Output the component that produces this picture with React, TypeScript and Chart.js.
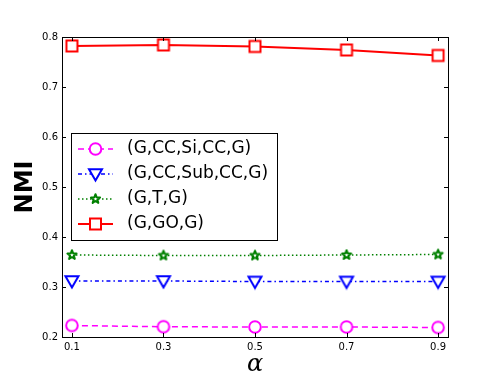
import React, { useEffect, useRef } from "react";
import { Chart, registerables } from "chart.js";
Chart.register(...registerables);

const alphas = [0.1, 0.3, 0.5, 0.7, 0.9];
const xTicks = [0.1, 0.3, 0.5, 0.7, 0.9];
const yTicks = [0.2, 0.3, 0.4, 0.5, 0.6, 0.7, 0.8];
const seriesNames = ["(G,CC,Si,CC,G)", "(G,CC,Sub,CC,G)", "(G,T,G)", "(G,GO,G)"];
const siValues = [0.223, 0.2205, 0.22, 0.22, 0.219];
const subValues = [0.312, 0.312, 0.311, 0.311, 0.311];
const tValues = [0.364, 0.363, 0.363, 0.364, 0.365];
const goValues = [0.782, 0.784, 0.781, 0.774, 0.763];

const colors = ["#ff00ff", "#0000ff", "#008000", "#ff0000"];
const markers = ["circle", "triangleDown", "star", "square"];
const dashes: number[][] = [[6, 4], [4, 3, 1.5, 3], [1.5, 2.5], []];
const lineWidths = [1.5, 1.5, 1.5, 2];

function drawMarker(ctx: CanvasRenderingContext2D, kind: string, cx: number, cy: number, color: string) {
  ctx.save();
  ctx.setLineDash([]);
  ctx.fillStyle = "#ffffff";
  ctx.strokeStyle = color;
  ctx.lineWidth = 2;
  ctx.lineJoin = "miter";
  ctx.beginPath();
  if (kind === "circle") {
    ctx.arc(cx, cy, 5.8, 0, Math.PI * 2);
  } else if (kind === "square") {
    ctx.rect(cx - 5.5, cy - 5.5, 11, 11);
  } else if (kind === "triangleDown") {
    const r = 6.5;
    ctx.moveTo(cx - r, cy - r * 0.75);
    ctx.lineTo(cx + r, cy - r * 0.75);
    ctx.lineTo(cx, cy + r);
    ctx.closePath();
  } else if (kind === "star") {
    ctx.lineJoin = "round";
    const ro = 4.8;
    const ri = ro * 0.42;
    for (let i = 0; i < 10; i++) {
      const r = i % 2 === 0 ? ro : ri;
      const a = -Math.PI / 2 + (i * Math.PI) / 5;
      const x = cx + r * Math.cos(a);
      const y = cy + r * Math.sin(a);
      if (i === 0) ctx.moveTo(x, y);
      else ctx.lineTo(x, y);
    }
    ctx.closePath();
  }
  ctx.fill();
  ctx.stroke();
  ctx.restore();
}

function markerCanvas(kind: string, color: string) {
  const c = document.createElement("canvas");
  c.width = 18;
  c.height = 18;
  const ctx = c.getContext("2d")!;
  drawMarker(ctx, kind, 9, 9, color);
  return c;
}

const FONT = "'DejaVu Sans', sans-serif";

const framePlugin = {
  id: "framePlugin",
  afterDraw(chart: any) {
    const ctx = chart.ctx as CanvasRenderingContext2D;
    const { left, right, top, bottom } = chart.chartArea;
    const xs = chart.scales.x;
    const ys = chart.scales.y;
    ctx.save();
    ctx.strokeStyle = "#000";
    ctx.lineWidth = 1;
    ctx.setLineDash([]);
    ctx.beginPath();
    for (const v of xTicks) {
      const px = Math.round(xs.getPixelForValue(v)) + 0.5;
      ctx.moveTo(px, bottom);
      ctx.lineTo(px, bottom - 4);
      ctx.moveTo(px, top);
      ctx.lineTo(px, top + 4);
    }
    for (const v of yTicks) {
      const py = Math.round(ys.getPixelForValue(v)) + 0.5;
      ctx.moveTo(left, py);
      ctx.lineTo(left + 4, py);
      ctx.moveTo(right, py);
      ctx.lineTo(right - 4, py);
    }
    ctx.stroke();
    ctx.strokeRect(Math.round(left) + 0.5, Math.round(top) + 0.5, Math.round(right - left), Math.round(bottom - top));

    // legend
    const lx = 71, ly = 133, lw = 206, lh = 107;
    ctx.fillStyle = "#fff";
    ctx.fillRect(lx, ly, lw, lh);
    ctx.strokeRect(lx + 0.5, ly + 0.5, lw, lh);
    const rowsY = [149, 174, 199, 224];
    for (let i = 0; i < seriesNames.length; i++) {
      const yy = rowsY[i];
      ctx.save();
      ctx.strokeStyle = colors[i];
      ctx.lineWidth = lineWidths[i];
      ctx.setLineDash(dashes[i]);
      ctx.beginPath();
      ctx.moveTo(78, yy);
      ctx.lineTo(113, yy);
      ctx.stroke();
      ctx.restore();
      drawMarker(ctx, markers[i], 95.5, yy, colors[i]);
      ctx.fillStyle = "#000";
      ctx.font = `17px ${FONT}`;
      ctx.textAlign = "left";
      ctx.textBaseline = "middle";
      ctx.fillText(seriesNames[i], 127, yy);
    }

    // axis titles
    ctx.fillStyle = "#000";
    ctx.save();
    ctx.translate(26, 187);
    ctx.rotate(-Math.PI / 2);
    ctx.font = `bold 24px ${FONT}`;
    ctx.textAlign = "center";
    ctx.textBaseline = "middle";
    ctx.fillText("NMI", 0, 0);
    ctx.restore();
    ctx.font = `italic 24px 'DejaVu Serif', serif`;
    ctx.textAlign = "center";
    ctx.textBaseline = "alphabetic";
    ctx.fillText("α", 255, 371);
    ctx.restore();
  },
};

export default function App() {
  const ref = useRef<HTMLCanvasElement>(null);
  useEffect(() => {
    const valuesList = [siValues, subValues, tValues, goValues];
    const datasets = valuesList.map((vals, i) => ({
      label: seriesNames[i],
      data: alphas.map((a, j) => ({ x: a, y: vals[j] })),
      borderColor: colors[i],
      borderWidth: lineWidths[i],
      borderDash: dashes[i],
      pointStyle: markerCanvas(markers[i], colors[i]) as any,
      pointRadius: 7,
      pointHoverRadius: 7,
      tension: 0,
      fill: false,
    }));
    const chart = new Chart(ref.current!, {
      type: "line",
      data: { datasets },
      options: {
        animation: false,
        responsive: false,
        events: [],
        layout: { padding: { top: 37, right: 50, left: 0, bottom: 0 } },
        plugins: { legend: { display: false }, tooltip: { enabled: false } },
        scales: {
          x: {
            type: "linear",
            min: 0.0783,
            max: 0.9217,
            grid: { display: false, drawTicks: false },
            border: { display: false },
            afterBuildTicks: (s: any) => {
              s.ticks = xTicks.map((v) => ({ value: v }));
            },
            afterFit: (s: any) => {
              s.height = 37;
            },
            ticks: {
              color: "#000",
              padding: 4,
              maxRotation: 0,
              autoSkip: false,
              font: { family: FONT, size: 10 },
              callback: (v: any) => Number(v).toFixed(1),
            },
          },
          y: {
            type: "linear",
            min: 0.2,
            max: 0.8,
            grid: { display: false, drawTicks: false },
            border: { display: false },
            afterBuildTicks: (s: any) => {
              s.ticks = yTicks.map((v) => ({ value: v }));
            },
            afterFit: (s: any) => {
              s.width = 62;
            },
            ticks: {
              color: "#000",
              padding: 4,
              autoSkip: false,
              font: { family: FONT, size: 10 },
              callback: (v: any) => Number(v).toFixed(1),
            },
          },
        },
      },
      plugins: [framePlugin],
    });
    return () => chart.destroy();
  }, []);
  return (
    <div style={{ position: "fixed", left: 0, top: 0, width: 498, height: 374, background: "#fff" }}>
      <canvas ref={ref} width={498} height={374} style={{ width: 498, height: 374 }} />
    </div>
  );
}
